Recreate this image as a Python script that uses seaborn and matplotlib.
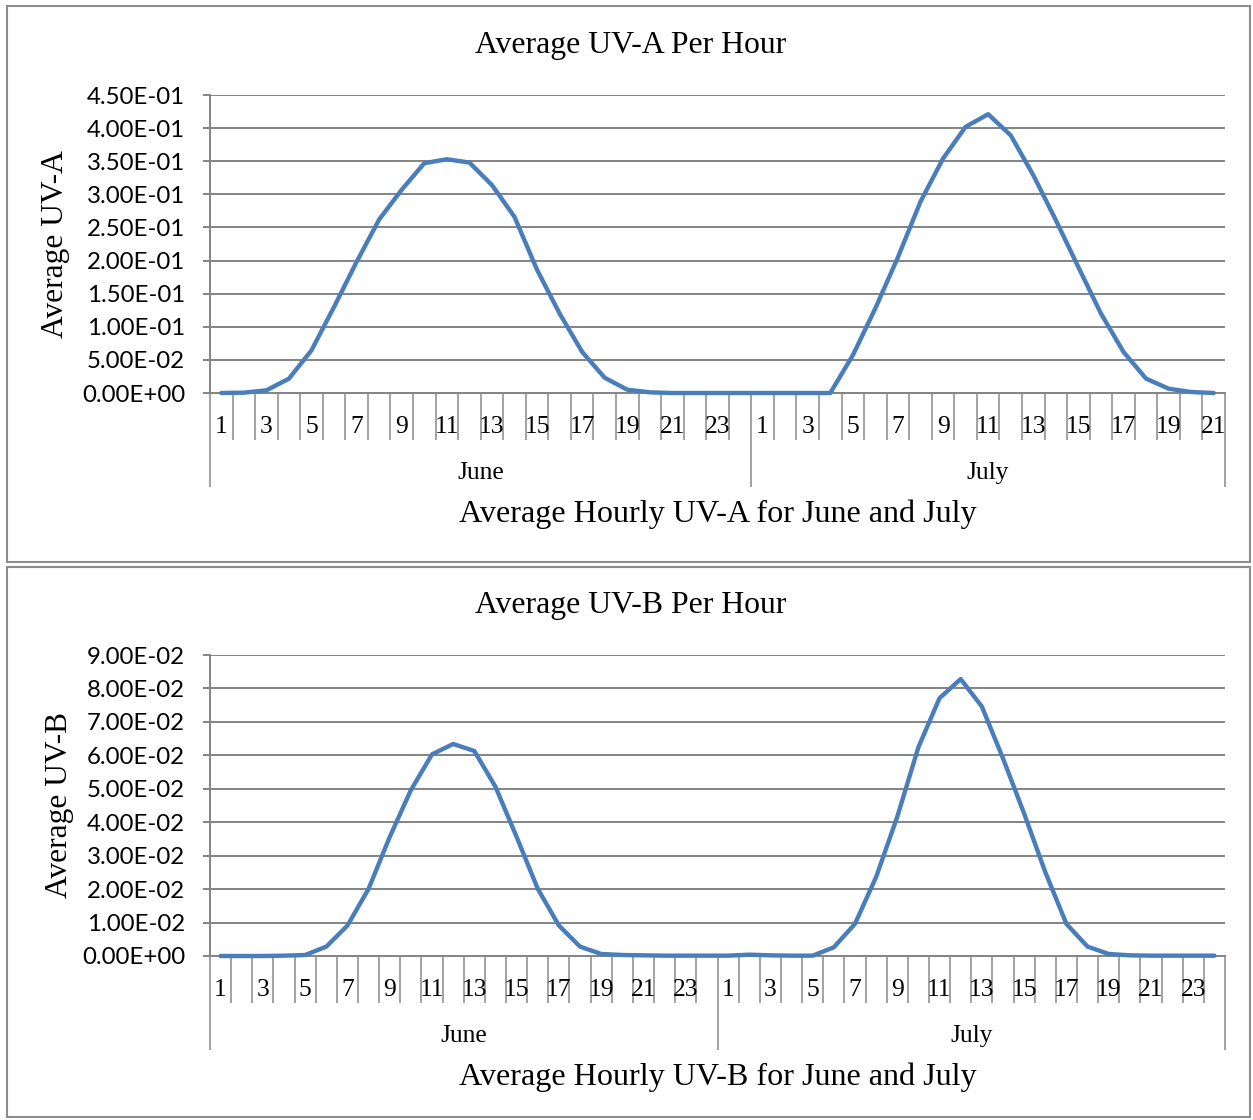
import numpy as np
import pandas as pd
import matplotlib
matplotlib.use("Agg")
import matplotlib.pyplot as plt
import seaborn as sns
from matplotlib.patches import Rectangle
from matplotlib.ticker import FuncFormatter, MultipleLocator

# ---------------- data ----------------
june_hours_a = list(range(1, 25))
july_hours_a = list(range(1, 22))
june_uva = [0.0, 0.0005, 0.004, 0.0217, 0.0645, 0.130, 0.198, 0.262, 0.307, 0.347, 0.353, 0.348,
            0.314, 0.266, 0.186, 0.120, 0.062, 0.023, 0.005, 0.001, 0.0, 0.0, 0.0, 0.0]
july_uva = [0.0, 0.0, 0.0, 0.0, 0.057, 0.128, 0.205, 0.289, 0.354, 0.402, 0.421, 0.389,
            0.329, 0.261, 0.190, 0.120, 0.062, 0.0217, 0.0065, 0.0015, 0.0]

june_hours_b = list(range(1, 25))
july_hours_b = list(range(1, 25))
june_uvb = [0.0, 0.0, 0.0, 0.0001, 0.0003, 0.0028, 0.0091, 0.0201, 0.0356, 0.0496, 0.0603, 0.0634,
            0.0613, 0.0506, 0.0356, 0.0201, 0.0091, 0.0028, 0.0006, 0.0003, 0.0002, 0.0001, 0.0001, 0.0001]
july_uvb = [0.0001, 0.0004, 0.0002, 0.0001, 0.0001, 0.0026, 0.0096, 0.0236, 0.0416, 0.0624, 0.0771, 0.0828,
            0.0746, 0.0591, 0.0426, 0.0251, 0.0096, 0.0028, 0.0006, 0.0002, 0.0001, 0.0001, 0.0001, 0.0001]

months = ["June", "July"]

titles = ["Average UV-A Per Hour", "Average UV-B Per Hour"]
ylabels = ["Average UV-A", "Average UV-B"]
xlabels = ["Average Hourly UV-A for June and July", "Average Hourly UV-B for June and July"]

# ---------------- style ----------------
sns.set_theme(style="white")
plt.rcParams["font.family"] = ["Liberation Serif", "DejaVu Serif"]

LINE_COLOR = "#4A7EBB"
GRID_COLOR = "#868686"
DPI = 100
W, H = 1253, 1120

fig = plt.figure(figsize=(W / DPI, H / DPI), dpi=DPI)

# panel borders
for (y0, y1) in [(6, 562), (567, 1117)]:
    fig.patches.append(Rectangle((7 / W, 1 - y1 / H), (1250 - 7) / W, (y1 - y0) / H,
                                 transform=fig.transFigure, fill=False,
                                 edgecolor="#8c8c8c", linewidth=1.5))


def px2pt(p):
    return p * 72.0 / DPI


def make_panel(rect, june_h, july_h, june_v, july_v, ymax, ystep, title, ylabel, xlabel,
               title_y, ylabel_x):
    ax = fig.add_axes(rect)
    n_j = len(june_h)
    n = n_j + len(july_h)
    df = pd.DataFrame({
        "pos": np.arange(n) + 0.5,
        "value": list(june_v) + list(july_v),
    })
    sns.lineplot(data=df, x="pos", y="value", ax=ax, color=LINE_COLOR, linewidth=px2pt(4.4),
                 zorder=5, clip_on=False)
    ax.set_xlim(0, n)
    ax.set_ylim(0, ymax)
    ax.yaxis.set_major_locator(MultipleLocator(ystep))
    ax.yaxis.set_major_formatter(FuncFormatter(lambda v, p: f"{v:.2E}"))
    ax.grid(axis="y", color=GRID_COLOR, linewidth=px2pt(2), zorder=1)
    ax.grid(axis="x", visible=False)
    ax.set_axisbelow(True)
    for s in ["top", "right"]:
        ax.spines[s].set_visible(False)
    for s in ["left", "bottom"]:
        ax.spines[s].set_color(GRID_COLOR)
        ax.spines[s].set_linewidth(px2pt(2))
    ax.tick_params(axis="y", which="major", direction="out", length=px2pt(7), width=px2pt(2),
                   color=GRID_COLOR, pad=px2pt(18), left=True, labelsize=px2pt(24),
                   labelcolor="black")
    for lab in ax.get_yticklabels():
        lab.set_family(["Lato", "DejaVu Sans"])

    # category axis: minor ticks every hour boundary, major at month boundaries
    ax.set_xticks(list(range(0, n + 1)), minor=True)
    ax.set_xticks([0, n_j, n])
    ax.set_xticklabels([])
    ax.tick_params(axis="x", which="minor", direction="out", length=px2pt(47), width=px2pt(1.5),
                   color=GRID_COLOR, bottom=True)
    ax.tick_params(axis="x", which="major", direction="out", length=px2pt(94), width=px2pt(1.5),
                   color=GRID_COLOR, bottom=True)
    ax.set_xlabel("")
    ax.set_ylabel("")

    hour_labels = [str(h) if h % 2 == 1 else "" for h in list(june_h) + list(july_h)]
    for i, lab in enumerate(hour_labels):
        if lab:
            ax.annotate(lab, xy=(i + 0.5, 0), xycoords=("data", "axes fraction"),
                        xytext=(0, -px2pt(34)), textcoords="offset points",
                        ha="center", va="center", fontsize=px2pt(25.5), color="black")
    centers = [n_j / 2.0, n_j + len(july_h) / 2.0]
    for c, m in zip(centers, months):
        ax.annotate(m, xy=(c, 0), xycoords=("data", "axes fraction"),
                    xytext=(0, -px2pt(80)), textcoords="offset points",
                    ha="center", va="center", fontsize=px2pt(25.5), color="black")

    fig.text(631 / W, 1 - title_y / H, title, ha="center", va="center",
             fontsize=px2pt(31.8), color="black")
    fig.text(ylabel_x / W, (rect[1] + rect[3] / 2), ylabel, ha="center", va="center",
             rotation=90, fontsize=px2pt(31.5), color="black")
    ax.annotate(xlabel, xy=(0.5, 0), xycoords="axes fraction",
                xytext=(0, -px2pt(121)), textcoords="offset points",
                ha="center", va="center", fontsize=px2pt(32.2), color="black")
    return ax


rect_a = [210 / W, 1 - 393 / H, (1225 - 210) / W, (393 - 95) / H]
rect_b = [210 / W, 1 - 956 / H, (1225 - 210) / W, (956 - 655) / H]

make_panel(rect_a, june_hours_a, july_hours_a, june_uva, july_uva, 0.45, 0.05,
           titles[0], ylabels[0], xlabels[0], 46, 55)
make_panel(rect_b, june_hours_b, july_hours_b, june_uvb, july_uvb, 0.09, 0.01,
           titles[1], ylabels[1], xlabels[1], 606, 60)

fig.savefig("out.png", dpi=DPI, facecolor="white")
